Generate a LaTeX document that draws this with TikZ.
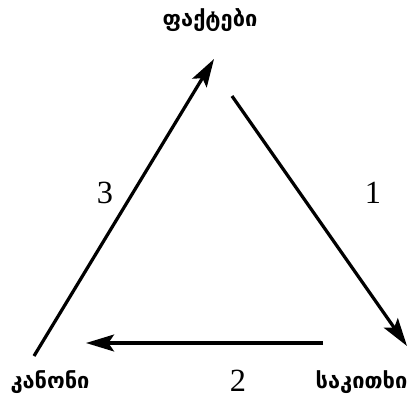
\documentclass[tikz,border=0pt]{standalone}
\usepackage{fontspec}
\newfontfamily\geofont{DejaVu Sans}
\newfontfamily\numfont{Liberation Serif}
\usepackage{tikz}
\usetikzlibrary{arrows.meta, positioning}

\begin{document}
\begin{tikzpicture}[>={Stealth[length=7mm, width=4.2mm, inset=1.4mm]}, x=0.025cm, y=-0.025cm]
		\useasboundingbox (0,0) rectangle (410,397);
		\tikzset{
			term/.style={font=\geofont\bfseries\fontsize{15.5}{18}\selectfont, inner sep=1pt},
			num/.style={font=\numfont\fontsize{23}{26}\selectfont},
			flow/.style={->, line width=2.3pt}
		}
		
		% Termini
		\node[term] (facts) at (210,20) {ფაქტები};
		\node[term] (law)   at (50,382) {კანონი};
		\node[term, anchor=east] (issue) at (409,382) {საკითხი};
		
		% Estremi delle frecce
		\coordinate (A_law)   at (34,356);
		\coordinate (A_top)   at (214,59);
		\coordinate (B_top)   at (232,96);
		\coordinate (B_issue) at (407,346);
		\coordinate (C_issue) at (323,343);
		\coordinate (C_law)   at (86,343);
		
		% Frecce
		\draw[flow] (A_law) -- (A_top);
		\draw[flow] (B_top) -- (B_issue);
		\draw[flow] (C_issue) -- (C_law);
		
		% Numeri
		\node[num] (n3) at (105,193) {3};
		\node[num] (n1) at (373,193) {1};
		\node[num] (n2) at (238,381) {2};
		
	\end{tikzpicture}
\end{document}
